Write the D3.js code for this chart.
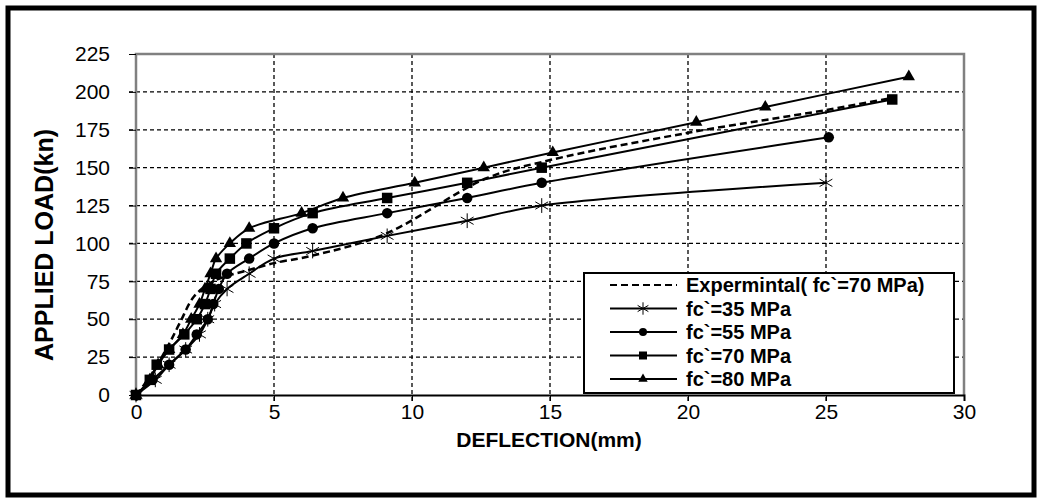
<!DOCTYPE html>
<html>
<head>
<meta charset="utf-8">
<script src="https://cdn.jsdelivr.net/npm/d3@7"></script>
<style>
  body { margin: 0; background: #fff; }
  svg { display: block; font-family: "Liberation Sans", Arial, sans-serif; }
</style>
</head>
<body>
<svg width="1042" height="502"></svg>
<script>
// load-deflection readings, [deflection mm, load kN]
const experimental = [[0,0],[0.5,12],[1.15,32],[1.6,48],[2.1,65],[2.7,74],[3.2,78],[4,82],[5,87],[6.4,92],[9,106],[12.7,143],[15,155],[20,173],[25,188],[27.4,196]];
const fc35 = [[0,0],[0.7,10],[1.2,20],[1.8,30],[2.3,40],[2.6,50],[2.85,60],[3.3,70],[4.1,80],[5,90],[6.4,95],[9.1,105],[12,115],[14.7,125],[25,140]];
const fc55 = [[0,0],[0.6,10],[1.2,20],[1.8,30],[2.2,40],[2.6,50],[2.8,60],[3.0,70],[3.3,80],[4.1,90],[5,100],[6.4,110],[9.1,120],[12,130],[14.7,140],[25.1,170]];
const fc70 = [[0,0],[0.5,10],[0.75,20],[1.2,30],[1.75,40],[2.2,50],[2.5,60],[2.7,70],[2.9,80],[3.4,90],[4,100],[5,110],[6.4,120],[9.1,130],[12,140],[14.7,150],[27.4,195]];
const fc80 = [[0,0],[0.5,10],[0.8,20],[1.2,30],[1.7,40],[2.0,50],[2.3,60],[2.5,70],[2.7,80],[2.9,90],[3.4,100],[4.1,110],[6,120],[7.5,130],[10.1,140],[12.6,150],[15.1,160],[20.3,180],[22.8,190],[28,210]];

const xTicks = [0, 5, 10, 15, 20, 25, 30];
const yTicks = [0, 25, 50, 75, 100, 125, 150, 175, 200, 225];

const series = [
  {name: "Expermintal( fc`=70 MPa)", data: experimental, dash: "7,4", marker: null},
  {name: "fc`=35 MPa", data: fc35, dash: null, marker: "star"},
  {name: "fc`=55 MPa", data: fc55, dash: null, marker: "circle"},
  {name: "fc`=70 MPa", data: fc70, dash: null, marker: "square"},
  {name: "fc`=80 MPa", data: fc80, dash: null, marker: "triangle"}
];

const svg = d3.select("svg");
const plotLeft = 136, plotRight = 964, plotTop = 54, plotBottom = 395;

const x = d3.scaleLinear().domain([0, 30]).range([plotLeft, plotRight]);
const y = d3.scaleLinear().domain([0, 225]).range([plotBottom, plotTop]);

// outer frame
svg.append("rect")
  .attr("x", 8).attr("y", 8).attr("width", 1026).attr("height", 487)
  .attr("fill", "none").attr("stroke", "#000").attr("stroke-width", 5);

// grid
const grid = svg.append("g");
grid.selectAll("line.h").data(yTicks.filter(d => d > 0 && d < 225)).enter()
  .append("line")
  .attr("x1", plotLeft - 7).attr("x2", plotRight)
  .attr("y1", d => y(d)).attr("y2", d => y(d))
  .attr("stroke", "#000").attr("stroke-width", 1.3).attr("stroke-dasharray", "4,3");
grid.selectAll("line.v").data(xTicks.filter(d => d > 0 && d < 30)).enter()
  .append("line")
  .attr("x1", d => x(d)).attr("x2", d => x(d))
  .attr("y1", plotTop).attr("y2", plotBottom + 6)
  .attr("stroke", "#000").attr("stroke-width", 1.3).attr("stroke-dasharray", "4,3");

// plot border (gray) and axes
svg.append("path")
  .attr("d", `M${plotLeft},${plotBottom}V${plotTop}H${plotRight}V${plotBottom}`)
  .attr("fill", "none").attr("stroke", "#808080").attr("stroke-width", 2.5);

const yAxis = svg.append("g")
  .attr("transform", `translate(${plotLeft},0)`)
  .call(d3.axisLeft(y).tickValues(yTicks).tickSize(7).tickPadding(19));
yAxis.select(".domain").remove();
yAxis.selectAll("text").attr("font-size", 21).attr("fill", "#000").attr("font-family", "Liberation Sans, Arial, sans-serif");

const xAxis = svg.append("g")
  .attr("transform", `translate(0,${plotBottom})`)
  .call(d3.axisBottom(x).tickValues(xTicks).tickSize(6).tickPadding(3));
xAxis.select(".domain").attr("stroke-width", 2);
xAxis.selectAll("text").attr("font-size", 21).attr("fill", "#000").attr("font-family", "Liberation Sans, Arial, sans-serif");

// titles
svg.append("text")
  .attr("x", 549).attr("y", 447)
  .attr("text-anchor", "middle").attr("font-weight", "bold").attr("font-size", 21)
  .text("DEFLECTION(mm)");
svg.append("text")
  .attr("transform", "translate(53,245) rotate(-90)")
  .attr("text-anchor", "middle").attr("font-weight", "bold").attr("font-size", 25)
  .text("APPLIED LOAD(kn)");

// markers
function drawMarker(g, type, size) {
  if (type === "star") {
    g.append("path").attr("d", d3.symbol(d3.symbolAsterisk, size * 9)())
      .attr("fill", "none").attr("stroke", "#000").attr("stroke-width", 1);
  } else if (type === "circle") {
    g.append("circle").attr("r", size / 2).attr("fill", "#000");
  } else if (type === "square") {
    g.append("rect").attr("x", -size / 2).attr("y", -size / 2)
      .attr("width", size).attr("height", size).attr("fill", "#000");
  } else if (type === "triangle") {
    g.append("path").attr("d", d3.symbol(d3.symbolTriangle, size * size * 0.6)())
      .attr("fill", "#000");
  }
}

const line = d3.line()
  .x(d => x(d[0])).y(d => y(d[1]))
  .curve(d3.curveCatmullRom.alpha(0.5));

const plot = svg.append("g");
series.forEach(s => {
  plot.append("path")
    .datum(s.data)
    .attr("d", line)
    .attr("fill", "none")
    .attr("stroke", "#000")
    .attr("stroke-width", s.dash ? 2.5 : 2)
    .attr("stroke-dasharray", s.dash);
  if (s.marker) {
    plot.selectAll(null).data(s.data).enter()
      .append("g")
      .attr("transform", d => `translate(${x(d[0])},${y(d[1])})`)
      .each(function() { drawMarker(d3.select(this), s.marker, s.marker === "star" ? 17 : 10.5); });
  }
});

// legend
const legend = svg.append("g");
legend.append("rect")
  .attr("x", 584).attr("y", 273).attr("width", 370).attr("height", 120)
  .attr("fill", "#fff").attr("stroke", "#000").attr("stroke-width", 2);
series.forEach((s, i) => {
  const ly = 285 + i * 23.5;
  legend.append("line")
    .attr("x1", 610).attr("x2", 677).attr("y1", ly).attr("y2", ly)
    .attr("stroke", "#000").attr("stroke-width", 2)
    .attr("stroke-dasharray", s.dash);
  if (s.marker) {
    const g = legend.append("g").attr("transform", `translate(643,${ly})`);
    drawMarker(g, s.marker, s.marker === "star" ? 12 : 8);
  }
  legend.append("text")
    .attr("x", 686).attr("y", ly + 7)
    .attr("font-size", 20).attr("font-weight", "bold")
    .text(s.name);
});
</script>
</body>
</html>
